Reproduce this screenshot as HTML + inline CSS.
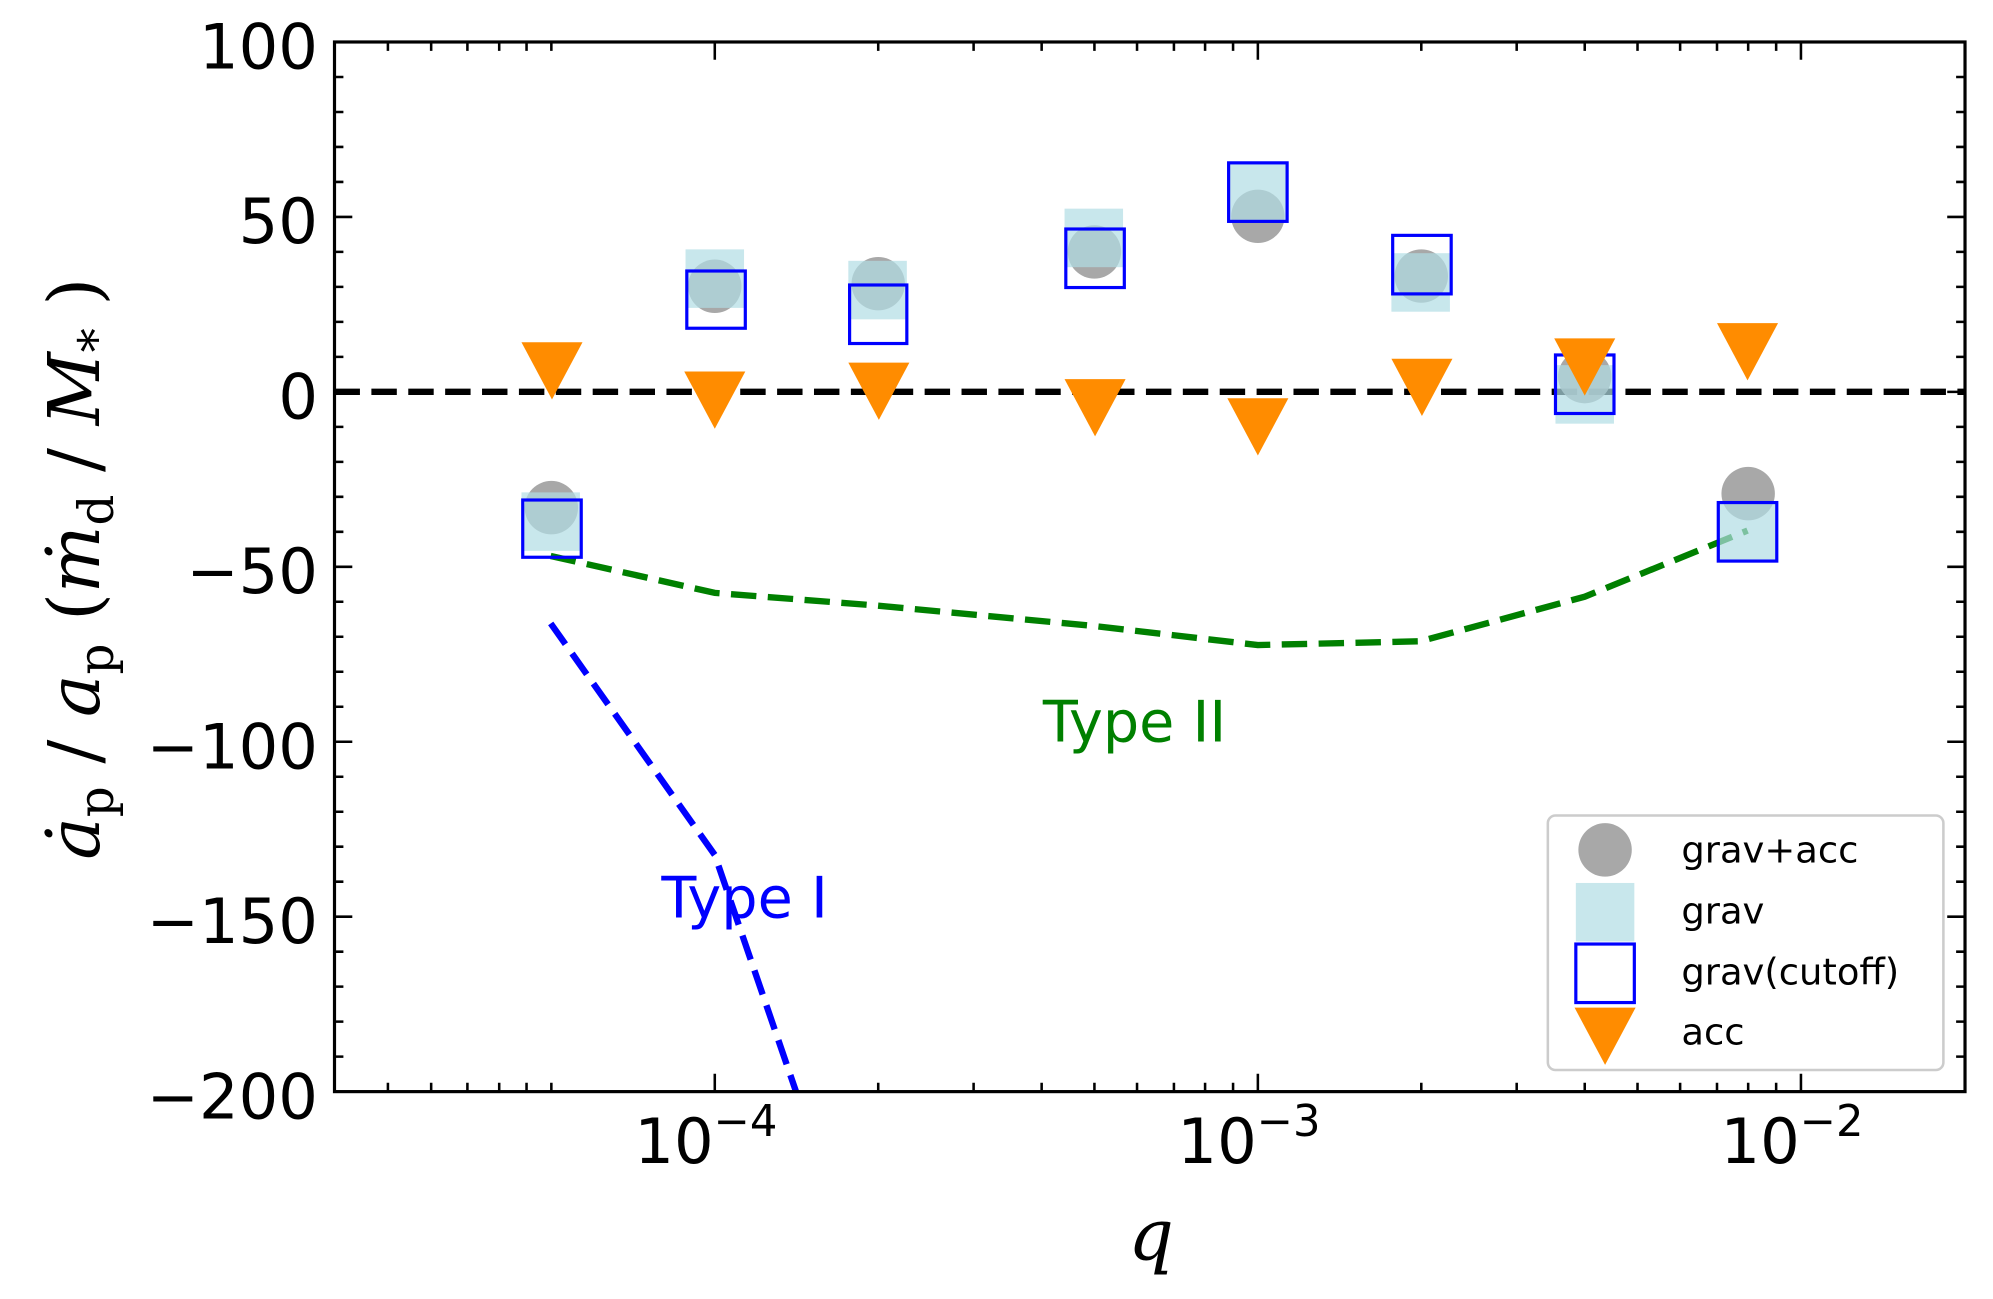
<!DOCTYPE html>
<html><head><meta charset="utf-8"><style>html,body{margin:0;padding:0;background:#fff}svg{display:block}</style></head>
<body>
<svg width="1993" height="1299" viewBox="0 0 1567 1021" preserveAspectRatio="none" xmlns="http://www.w3.org/2000/svg" font-family="'DejaVu Sans','Liberation Sans',sans-serif">
<defs><clipPath id="c"><rect x="263" y="33" width="1282" height="825"/></clipPath></defs>
<g clip-path="url(#c)">
<line x1="263" y1="308" x2="1545" y2="308" stroke="#000" stroke-width="5" stroke-dasharray="20,9"/>
<polyline points="433,437 562,466 690,476 860,492 989,507 1117,504 1246,469 1374,417" fill="none" stroke="#008000" stroke-width="5" stroke-dasharray="20,9"/>
<polyline points="433,490 562,672 630,870" fill="none" stroke="#0000ff" stroke-width="5" stroke-dasharray="20,9"/>
<g fill="#999" fill-opacity="0.85">
<circle cx="433.5" cy="399" r="21"/><circle cx="562" cy="225" r="21"/><circle cx="690.5" cy="223" r="21"/><circle cx="860.5" cy="198" r="21"/><circle cx="989" cy="170" r="21"/><circle cx="1117.5" cy="217" r="21"/><circle cx="1246" cy="296" r="21"/><circle cx="1374.5" cy="388" r="21"/>
</g>
<g fill="#b0dde4" fill-opacity="0.7">
<rect x="410" y="387" width="46" height="46"/><rect x="539" y="196" width="46" height="46"/><rect x="667" y="205" width="46" height="46"/><rect x="837" y="164" width="46" height="46"/><rect x="966" y="129" width="46" height="46"/><rect x="1094" y="199" width="46" height="46"/><rect x="1223" y="287" width="46" height="46"/><rect x="1351" y="395" width="46" height="46"/>
</g>
<g fill="none" stroke="#0000ff" stroke-width="2.5">
<rect x="411" y="393" width="46" height="45"/><rect x="540" y="213" width="46" height="45"/><rect x="668" y="224" width="45" height="46"/><rect x="838" y="180" width="46" height="46"/><rect x="966" y="128" width="46" height="46"/><rect x="1095" y="185" width="46" height="46"/><rect x="1223" y="279" width="46" height="46"/><rect x="1351" y="395" width="46" height="46"/>
</g>
<g fill="#ff8c00">
<polygon points="410,269 458,269 434,314"/><polygon points="538,292 586,292 562,337"/><polygon points="667,285 715,285 691,330"/><polygon points="837,298 885,298 861,343"/><polygon points="965,313 1013,313 989,358"/><polygon points="1094,282 1142,282 1118,327"/><polygon points="1222,266 1270,266 1246,311"/><polygon points="1350,254 1398,254 1374,299"/>
</g>
</g>
<text x="820" y="583" font-size="45" fill="#008000">Type II</text>
<text x="520" y="721" font-size="45" fill="#0000ff">Type I</text>
<rect x="1217" y="641" width="311" height="200" rx="6" fill="#fff" fill-opacity="0.85" stroke="#ccc" stroke-width="2"/>
<circle cx="1262" cy="668" r="21" fill="#999" fill-opacity="0.85"/>
<rect x="1239" y="694" width="46" height="46" fill="#b0dde4" fill-opacity="0.7"/>
<rect x="1239" y="742" width="46" height="46" fill="none" stroke="#0000ff" stroke-width="2.5"/>
<polygon points="1238,792 1286,792 1262,837" fill="#ff8c00"/>
<g font-size="29" fill="#000">
<text x="1322" y="678">grav+acc</text><text x="1322" y="726">grav</text><text x="1322" y="774">grav(cutoff)</text><text x="1322" y="821">acc</text>
</g>
<rect x="263" y="33" width="1282" height="825" fill="none" stroke="#000" stroke-width="2.5"/>
<g stroke="#000" stroke-width="2">
<path d="M263,33h14M263,170.5h14M263,308h14M263,445.5h14M263,583h14M263,720.5h14M1545,33h-14M1545,170.5h-14M1545,308h-14M1545,445.5h-14M1545,583h-14M1545,720.5h-14"/>
<path d="M263,60.5h7M263,88h7M263,115.5h7M263,143h7M263,198h7M263,225.5h7M263,253h7M263,280.5h7M263,335.5h7M263,363h7M263,390.5h7M263,418h7M263,473h7M263,500.5h7M263,528h7M263,555.5h7M263,610.5h7M263,638h7M263,665.5h7M263,693h7M263,748h7M263,775.5h7M263,803h7M263,830.5h7
M1545,60.5h-7M1545,88h-7M1545,115.5h-7M1545,143h-7M1545,198h-7M1545,225.5h-7M1545,253h-7M1545,280.5h-7M1545,335.5h-7M1545,363h-7M1545,390.5h-7M1545,418h-7M1545,473h-7M1545,500.5h-7M1545,528h-7M1545,555.5h-7M1545,610.5h-7M1545,638h-7M1545,665.5h-7M1545,693h-7M1545,748h-7M1545,775.5h-7M1545,803h-7M1545,830.5h-7"/>
<path d="M562,858v-14M989,858v-14M1416,858v-14M562,33v14M989,33v14M1416,33v14"/>
<path d="M305,858v-7M339,858v-7M367.5,858v-7M392.5,858v-7M414,858v-7M433.5,858v-7M690.5,858v-7M765.5,858v-7M819,858v-7M860.5,858v-7M894,858v-7M923,858v-7M947.5,858v-7M969.5,858v-7M1117.5,858v-7M1192.5,858v-7M1246,858v-7M1287.5,858v-7M1321,858v-7M1350,858v-7M1374.5,858v-7M1396.5,858v-7
M305,33v7M339,33v7M367.5,33v7M392.5,33v7M414,33v7M433.5,33v7M690.5,33v7M765.5,33v7M819,33v7M860.5,33v7M894,33v7M923,33v7M947.5,33v7M969.5,33v7M1117.5,33v7M1192.5,33v7M1246,33v7M1287.5,33v7M1321,33v7M1350,33v7M1374.5,33v7M1396.5,33v7"/>
</g>
<g font-size="49" fill="#000" text-anchor="end">
<text x="250" y="54">100</text><text x="250" y="191">50</text><text x="250" y="329">0</text><text x="250" y="466">−50</text><text x="250" y="604">−100</text><text x="250" y="741">−150</text><text x="250" y="879">−200</text>
</g>
<g font-size="49" fill="#000" text-anchor="middle">
<text x="555" y="914">10<tspan font-size="34" dy="-21">−4</tspan></text>
<text x="982" y="914">10<tspan font-size="34" dy="-21">−3</tspan></text>
<text x="1409" y="914">10<tspan font-size="34" dy="-21">−2</tspan></text>
</g>
<text x="905" y="990" font-size="56" font-style="italic" font-family="'DejaVu Serif','Liberation Serif',serif" text-anchor="middle">q</text>
<text transform="translate(78,447) rotate(-90)" font-size="56" font-family="'DejaVu Serif','Liberation Serif',serif" text-anchor="middle"><tspan font-style="italic">ȧ</tspan><tspan font-size="38" dy="11">p</tspan><tspan dy="-11"> / </tspan><tspan font-style="italic">a</tspan><tspan font-size="38" dy="11">p</tspan><tspan dy="-11">  (</tspan><tspan font-style="italic">ṁ</tspan><tspan font-size="38" dy="11">d</tspan><tspan dy="-11"> / </tspan><tspan font-style="italic">M</tspan><tspan font-size="38" dy="11">*</tspan><tspan dy="-11"> )</tspan></text>
</svg>
</body></html>
